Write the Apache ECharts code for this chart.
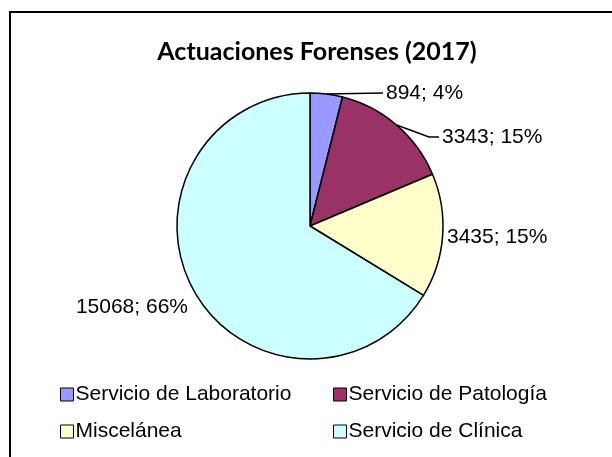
<!DOCTYPE html>
<html>
<head>
<meta charset="utf-8">
<script src="https://cdn.jsdelivr.net/npm/echarts@6/dist/echarts.min.js"></script>
<style>html,body{margin:0;padding:0;background:#fff;}#c{width:612px;height:457px;}</style>
</head>
<body>
<div id="c"></div>
<script>
var titleText = 'Actuaciones Forenses (2017)';
var categories = ['Servicio de Laboratorio', 'Servicio de Patología', 'Miscelánea', 'Servicio de Clínica'];
var values = [894, 3343, 3435, 15068];
var percents = [4, 15, 15, 66];
var colors = ['#9999FF', '#993366', '#FFFFCC', '#CCFFFF'];

var labelFont = 'Liberation Sans';
var labelSize = 21;
// label anchor placement (x, y, align) and whether a leader line is drawn
var labelPlace = [
  {x: 386, y: 93, align: 'left', line: true},
  {x: 442, y: 137, align: 'left', line: true, elbow: [429, 137]},
  {x: 447, y: 237, align: 'left', line: false},
  {x: 188, y: 307, align: 'right', line: false}
];

var chart = echarts.init(document.getElementById('c'), null, {renderer: 'canvas'});
var data = categories.map(function (n, i) {
  return {
    name: n,
    value: values[i],
    itemStyle: {color: colors[i]},
    labelLine: {show: labelPlace[i].line}
  };
});

var legendBase = {
  orient: 'vertical', top: 379,
  itemWidth: 13, itemHeight: 13, itemGap: 16, icon: 'rect',
  itemStyle: {borderColor: '#000', borderWidth: 1},
  textStyle: {fontFamily: labelFont, fontSize: labelSize, lineHeight: 21, color: '#000', padding: [0, 0, 0, -3]}
};

chart.setOption({
  animation: false,
  backgroundColor: '#ffffff',
  graphic: [
    {type: 'rect', shape: {x: 10, y: 12, width: 700, height: 600},
     style: {fill: 'none', stroke: '#000', lineWidth: 2}, z: 0},
    {type: 'text', x: 317, y: 52,
     style: {text: titleText, font: 'bold 25px Lato', fill: '#000', textAlign: 'center', textVerticalAlign: 'middle'}}
  ],
  legend: [
    Object.assign({}, legendBase, {data: [categories[0], categories[2]], left: 55}),
    Object.assign({}, legendBase, {data: [categories[1], categories[3]], left: 328})
  ],
  series: [{
    type: 'pie',
    center: [310, 226],
    radius: 133,
    startAngle: 90,
    clockwise: true,
    data: data,
    itemStyle: {borderColor: '#000', borderWidth: 1.5},
    emphasis: {disabled: true},
    label: {
      show: true,
      position: 'outside',
      formatter: function (p) { return p.value + '; ' + percents[p.dataIndex] + '%'; },
      fontFamily: labelFont,
      fontSize: labelSize,
      color: '#000'
    },
    labelLine: {show: true, length: 10, length2: 10, lineStyle: {color: '#000', width: 1.5}},
    labelLayout: function (params) {
      var pl = labelPlace[params.dataIndex];
      var res = {x: pl.x, y: pl.y, align: pl.align, verticalAlign: 'middle'};
      if (pl.line && params.labelLinePoints) {
        var start = params.labelLinePoints[0];
        var pts = [start];
        if (pl.elbow) { pts.push(pl.elbow); } else { pts.push([start[0] + (pl.x - 3 - start[0]) / 2, (start[1] + pl.y) / 2]); }
        pts.push([pl.x - 3, pl.y]);
        res.labelLinePoints = pts;
      }
      return res;
    }
  }]
});
</script>
</body>
</html>
